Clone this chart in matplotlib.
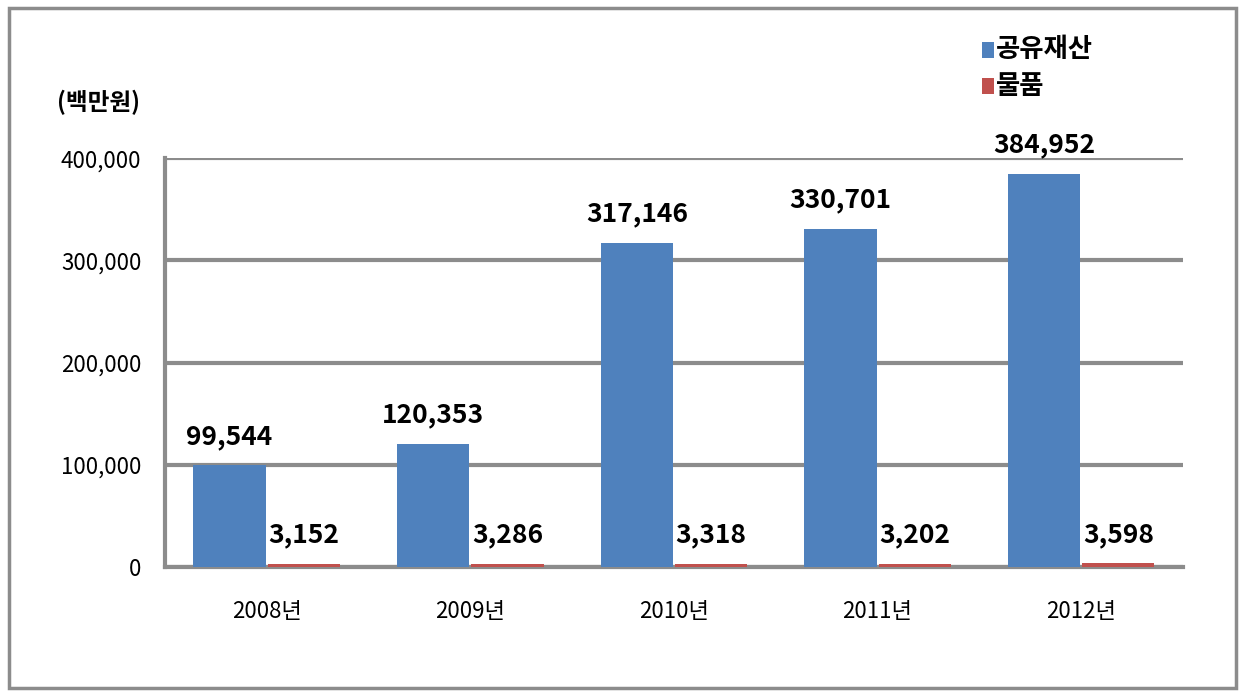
import numpy as np
import matplotlib.pyplot as plt
from matplotlib.patches import Rectangle

plt.rcParams['font.family'] = ['Noto Sans CJK KR', 'DejaVu Sans']

# data (백만원)
years = ['2008년', '2009년', '2010년', '2011년', '2012년']
public_property = [99544, 120353, 317146, 330701, 384952]
goods = [3152, 3286, 3318, 3202, 3598]
series_names = ['공유재산', '물품']

blue = '#4F81BD'
red = '#C0504D'
grid_gray = '#8C8C8C'

fig = plt.figure(figsize=(12.43, 6.94), dpi=100)
ax = fig.add_axes([0.1327, 0.183, 0.819, 0.589])

x = np.arange(len(years))
w = 0.355
b1 = ax.bar(x - w / 2 - 0.005, public_property, w, color=blue, zorder=3)
b2 = ax.bar(x + w / 2 + 0.005, goods, w, color=red, zorder=3)

# value labels
for bars, vals in ((b1, public_property), (b2, goods)):
    for r, v in zip(bars, vals):
        ax.annotate('{:,}'.format(v), (r.get_x() + r.get_width() / 2, v),
                    xytext=(0, 11), textcoords='offset points',
                    ha='center', va='bottom', fontsize=19, fontweight='heavy')

ax.set_xlim(-0.5, len(years) - 0.5)
ax.set_ylim(0, 400000)
ax.set_yticks([0, 100000, 200000, 300000, 400000])
ax.set_yticklabels(['{:,}'.format(t) for t in [0, 100000, 200000, 300000, 400000]])
ax.set_xticks(x)
ax.set_xticklabels(years)
ax.tick_params(axis='y', length=0, pad=17, labelsize=16)
ax.tick_params(axis='x', length=0, pad=24, labelsize=16)
for lab in ax.get_xticklabels() + ax.get_yticklabels():
    lab.set_fontweight('medium')

ax.yaxis.grid(True, color=grid_gray, linewidth=3, zorder=0)
ax.set_axisbelow(True)
for s in ['top', 'right']:
    ax.spines[s].set_visible(False)
for s in ['left', 'bottom']:
    ax.spines[s].set_color(grid_gray)
    ax.spines[s].set_linewidth(3)

# unit label
fig.text(0.046, 0.852, '(백만원)', fontsize=17, fontweight='heavy', ha='left', va='center')

# legend
for i, (name, c) in enumerate(zip(series_names, [blue, red])):
    yy = 0.928 - i * 0.052
    fig.patches.append(Rectangle((0.790, yy - 0.012), 0.0095, 0.024, transform=fig.transFigure,
                                 facecolor=c, edgecolor='none', figure=fig))
    fig.text(0.801, yy, name, fontsize=19, fontweight='heavy', ha='left', va='center')

# outer frame
fig.patches.append(Rectangle((0.007, 0.009), 0.987, 0.98, transform=fig.transFigure,
                             fill=False, edgecolor='#8C8C8C', linewidth=2.5, figure=fig))

fig.savefig('out.png', dpi=100)
